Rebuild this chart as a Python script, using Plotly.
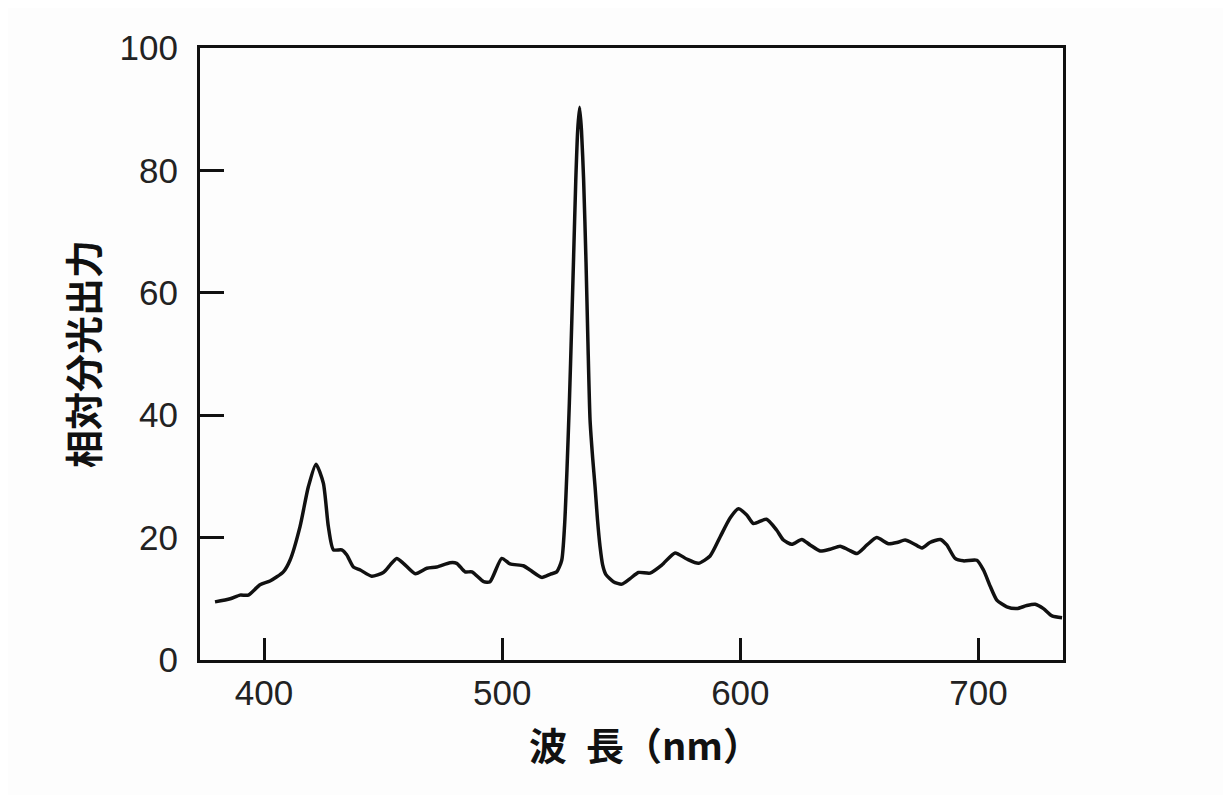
import plotly.graph_objects as go

# Wavelength (nm) and relative spectral output
wavelength = [379.4, 385.8, 389.9, 393.4, 398.3, 402.5, 408.1, 410.9, 415.1, 418.6,
              421.8, 424.9, 427.0, 429.1, 432.6, 434.7, 437.5, 440.4, 445.2, 450.1,
              452.9, 455.7, 458.5, 463.5, 468.4, 472.5, 478.1, 480.9, 484.4, 487.3,
              492.2, 494.9, 499.8, 503.3, 508.9, 511.7, 516.6, 520.1, 522.9, 525.0,
              526.2, 527.2, 528.2, 529.2, 530.0, 530.9, 531.7, 532.5, 533.3, 534.2,
              535.2, 536.0, 536.9, 538.0, 539.0, 540.0, 541.1, 542.2, 543.5, 546.7,
              550.2, 553.7, 557.2, 562.1, 567.0, 572.6, 577.5, 582.4, 587.3, 591.5,
              595.7, 599.2, 602.7, 605.5, 611.0, 615.3, 618.1, 621.6, 625.8, 629.3,
              633.5, 637.7, 641.9, 645.4, 649.0, 653.2, 657.3, 662.2, 665.8, 669.2,
              672.8, 676.3, 679.6, 684.0, 686.7, 690.2, 693.7, 699.3, 702.1, 705.0,
              707.7, 711.9, 716.1, 720.3, 723.8, 727.3, 730.9, 735.1]
output = [9.5, 10.0, 10.6, 10.6, 12.3, 12.9, 14.4, 16.3, 21.8, 28.3,
          32.0, 28.9, 21.8, 18.0, 18.0, 17.2, 15.2, 14.7, 13.7, 14.3,
          15.5, 16.6, 15.8, 14.1, 15.0, 15.2, 15.9, 15.8, 14.4, 14.4,
          12.8, 12.8, 16.6, 15.7, 15.4, 14.7, 13.5, 14.0, 14.4, 16.3,
          22.0, 31.0, 42.0, 55.0, 66.0, 78.4, 86.5, 90.3, 86.5, 78.4,
          65.0, 52.0, 39.2, 33.0, 28.3, 23.0, 18.5, 15.5, 14.0, 12.8,
          12.4, 13.3, 14.3, 14.2, 15.5, 17.5, 16.5, 15.8, 17.0, 20.1,
          23.2, 24.7, 23.7, 22.3, 23.0, 21.2, 19.6, 18.9, 19.7, 18.8,
          17.8, 18.1, 18.6, 18.0, 17.4, 18.8, 20.0, 19.0, 19.2, 19.6,
          19.0, 18.3, 19.2, 19.7, 18.8, 16.6, 16.2, 16.3, 14.7, 12.0,
          9.8, 8.7, 8.4, 8.9, 9.1, 8.4, 7.2, 6.9]

x_ticks = [400, 500, 600, 700]
y_ticks = [0, 20, 40, 60, 80, 100]
x_title = "波\u2002長（nm）"
y_title = "相対分光出力"

fig = go.Figure()
fig.add_trace(go.Scatter(
    x=wavelength, y=output, mode="lines",
    line=dict(color="#111111", width=3.5, shape="spline", smoothing=0.6),
    showlegend=False, hoverinfo="x+y",
))

tick_font = dict(family="Liberation Sans, Arial, sans-serif", size=35, color="#222222")
title_font = dict(family="Noto Sans CJK JP, sans-serif", size=38, color="#111111", weight=700)

fig.update_layout(
    width=1231, height=795,
    margin=dict(l=192, r=176, t=40, b=143),
    paper_bgcolor="#fdfdfd", plot_bgcolor="#fdfdfd",
    xaxis=dict(
        range=[373.1, 735.5], tickvals=x_ticks, ticktext=[str(v) for v in x_ticks],
        ticks="inside", ticklen=22, tickwidth=2.5, tickcolor="#111111",
        showline=True, linewidth=3, linecolor="#111111", mirror=True,
        showgrid=False, zeroline=False, tickfont=tick_font, ticklabelstandoff=0,
    ),
    yaxis=dict(
        range=[0, 100], tickvals=y_ticks, ticktext=[str(v) for v in y_ticks],
        ticks="inside", ticklen=24, tickwidth=2.5, tickcolor="#111111",
        showline=True, linewidth=3, linecolor="#111111", mirror=True,
        showgrid=False, zeroline=False, tickfont=tick_font, ticklabelstandoff=12,
    ),
    annotations=[
        dict(text=y_title, xref="paper", yref="paper", x=0, y=0.5,
             xanchor="center", yanchor="middle", xshift=-119, textangle=-90,
             showarrow=False, font=title_font),
        dict(text=x_title, xref="paper", yref="paper", x=0.5, y=0,
             xanchor="center", yanchor="middle", yshift=-83, xshift=13,
             showarrow=False, font=title_font),
    ],
)

fig.write_html("out.html")
